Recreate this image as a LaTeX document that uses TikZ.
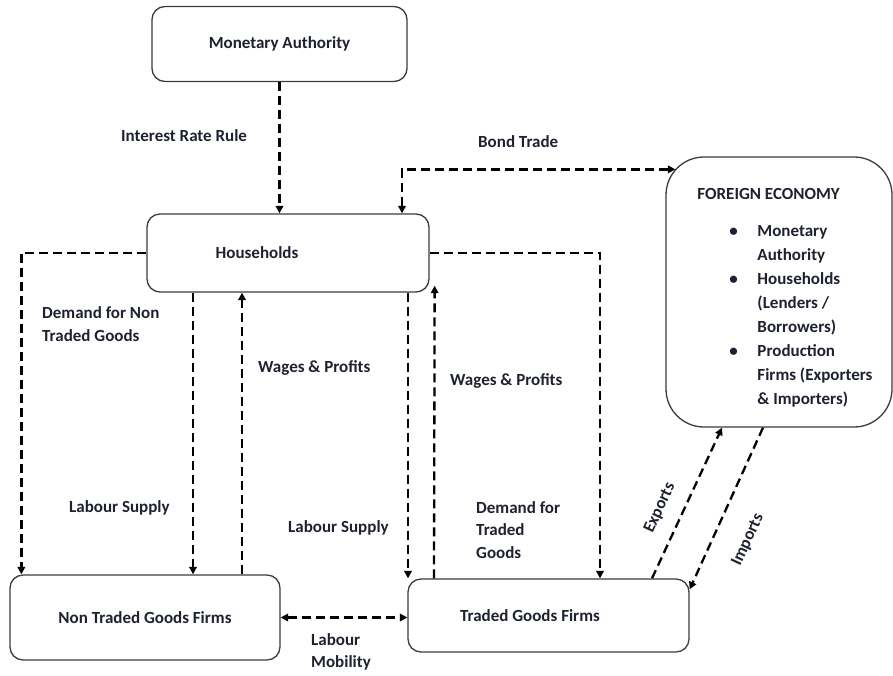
\documentclass[tikz,border=0pt]{standalone}
\usepackage{fontspec}
\setmainfont{Carlito}
\usepackage{tikz}
\usetikzlibrary{arrows.meta,positioning}
\definecolor{ink}{HTML}{1E2230}
\definecolor{edge}{HTML}{3C3C3C}
\tikzset{
  agent/.style={draw=edge,fill=white,line width=1.3pt,rounded corners=13pt,
                inner sep=0pt,font=\fontsize{17}{21}\selectfont\bfseries,text=ink},
  lbl/.style={anchor=west,align=left,inner sep=0pt,
              font=\fontsize{17}{22.5}\selectfont\bfseries,text=ink},
  flowarr/.style={-{Triangle[length=7.5pt,width=7.5pt]},line width=2.3pt,
                  dash pattern=on 9pt off 5pt},
  flowboth/.style={flowarr,{Triangle[length=7.5pt,width=7.5pt]}-{Triangle[length=7.5pt,width=7.5pt]}}
}
\newcommand{\feitem}[1]{\hspace*{44pt}\makebox[28pt][l]{\textbullet}#1}
\newcommand{\fecont}[1]{\hspace*{72pt}#1}

\begin{document}
\begin{tikzpicture}[x=1pt,y=-1pt]
  \useasboundingbox (0,0) rectangle (893,675);
  % ---- the agents ----
  \node[agent,minimum width=255pt,minimum height=75pt] (ma) at (279.5,44) {Monetary Authority};
  \node[agent,minimum width=282pt,minimum height=78pt] (hh) at (288,253) {Households\hspace*{62pt}};
  \node[agent,minimum width=270pt,minimum height=85pt] (nt) at (145,617.5) {Non Traded Goods Firms};
  \node[agent,minimum width=281pt,minimum height=73pt] (tg) at (548.5,615.5) {Traded Goods Firms\hspace*{37pt}};
  \node[agent,rounded corners=38pt,minimum width=226pt,minimum height=270pt,align=left,
        font=\fontsize{17}{24}\selectfont\bfseries] (fe) at (779,292)
    {\rule{0pt}{22.5pt}\hspace*{12pt}FOREIGN ECONOMY\\[13pt]
     \feitem{Monetary}\\ \fecont{Authority}\\
     \feitem{Households}\\ \fecont{(Lenders /}\\ \fecont{Borrowers)}\\
     \feitem{Production}\\ \fecont{Firms (Exporters}\\ \fecont{\& Importers)}};
  % ---- policy and bonds ----
  \draw[flowarr] (ma.south) -- (ma.south |- hh.north);
  \node[lbl] (irr) at (121,136) {Interest Rate Rule};
  \draw[flowboth] ([xshift=114pt]hh.north) |- ([xshift=10pt,yshift=-13pt]fe.north west);
  \node[lbl] (bond) at (478,142) {Bond Trade};
  % ---- non traded sector ----
  \draw[flowarr] (hh.west) -| ([xshift=12pt]nt.north west);
  \node[lbl] (dnt) at (42,324) {Demand for Non\\Traded Goods};
  \draw[flowarr] ([xshift=-95pt]hh.south) -- ([xshift=48pt]nt.north);
  \node[lbl] (lsnt) at (69,508) {Labour Supply};
  \draw[flowarr] ([xshift=97pt]nt.north) -- ([xshift=-46pt]hh.south);
  \node[lbl] (wpnt) at (258,368) {Wages \& Profits};
  % ---- traded sector ----
  \draw[flowarr] ([xshift=120pt]hh.south) -- ([xshift=-140.5pt]tg.north);
  \node[lbl] (lstg) at (288,528) {Labour Supply};
  \draw[flowarr] ([xshift=-114.5pt]tg.north) -- ([xshift=5pt,yshift=7pt]hh.south east);
  \node[lbl] (wptg) at (450,381) {Wages \& Profits};
  \draw[flowarr] (hh.east) -| ([xshift=51.5pt]tg.north);
  \node[lbl] (dtg) at (476,530) {Demand for\\Traded\\Goods};
  % ---- trade with abroad ----
  \draw[flowarr] ([xshift=103.5pt]tg.north) -- ([xshift=-57pt]fe.south);
  \node[lbl,anchor=center,rotate=65] (exp) at (660,508) {Exports};
  \draw[flowarr] ([xshift=-16pt]fe.south) -- ([yshift=-11pt]tg.north east);
  \node[lbl,anchor=center,rotate=65] (imp) at (748,540) {Imports};
  % ---- labour between sectors ----
  \draw[flowboth] (nt.east) -- (nt.east -| tg.west);
  \node[lbl] (mob) at (311,652) {Labour\\Mobility};
\end{tikzpicture}
\end{document}
